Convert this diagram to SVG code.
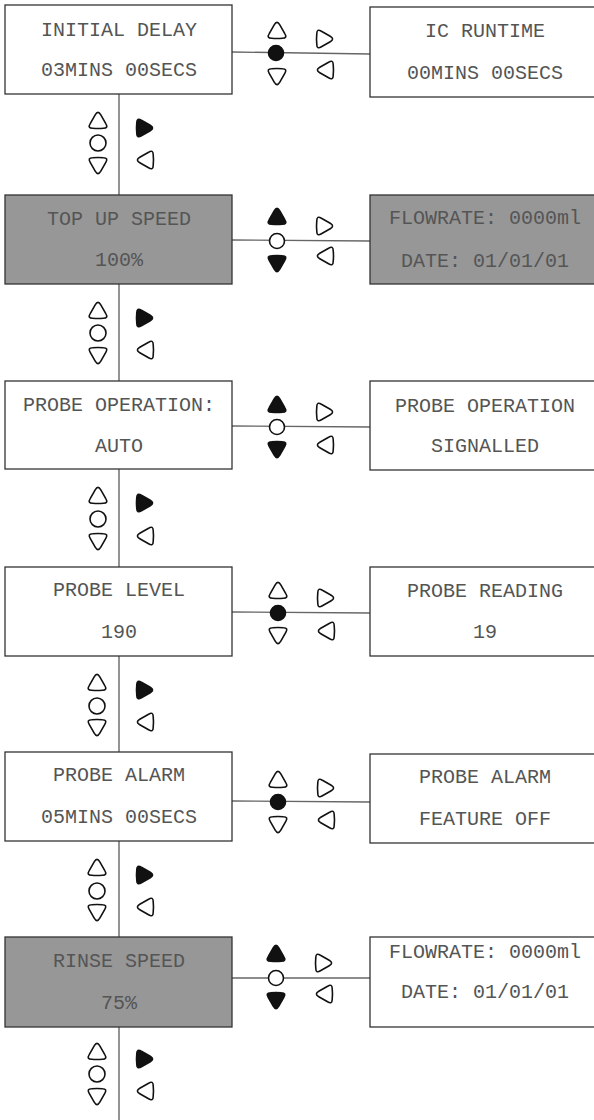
<svg xmlns="http://www.w3.org/2000/svg" xmlns:xlink="http://www.w3.org/1999/xlink" width="594" height="1120" viewBox="0 0 594 1120">
<style>
.box{fill:#fff;stroke:#333;stroke-width:1.3}
.grey{fill:#979797;stroke:#333;stroke-width:1.3}
.t{font-family:"Liberation Mono","DejaVu Sans Mono",monospace;font-size:20px;fill:#555;text-anchor:middle}
.o{fill:#fff;stroke:#111;stroke-width:1.6;stroke-linejoin:round}
.f{fill:#111;stroke:#111;stroke-width:1.6;stroke-linejoin:round}
.ln{stroke:#666;stroke-width:1.4;fill:none}
</style>
<defs>
<path id="up" d="M-2.8,-5.2 Q0,-10 2.8,-5.2 L7.8,3.6 Q10.6,8.2 5.4,8.2 Q0,8.8 -5.4,8.2 Q-10.6,8.2 -7.8,3.6 Z"/>
<path id="dn" d="M-2.8,5.2 Q0,10 2.8,5.2 L7.8,-3.6 Q10.6,-8.2 5.4,-8.2 Q0,-8.8 -5.4,-8.2 Q-10.6,-8.2 -7.8,-3.6 Z"/>
<path id="rt" d="M5.2,-2.8 Q10,0 5.2,2.8 L-3.6,7.8 Q-8.2,10.6 -8.2,5.4 Q-8.8,0 -8.2,-5.4 Q-8.2,-10.6 -3.6,-7.8 Z"/>
<path id="lt" d="M-5.2,-2.8 Q-10,0 -5.2,2.8 L3.6,7.8 Q8.2,10.6 8.2,5.4 Q8.8,0 8.2,-5.4 Q8.2,-10.6 3.6,-7.8 Z"/>
</defs>

<g id="connectors">
<line class="ln" x1="119" y1="94" x2="119" y2="195"/>
<line class="ln" x1="119" y1="284" x2="119" y2="381"/>
<line class="ln" x1="119" y1="469" x2="119" y2="567"/>
<line class="ln" x1="119" y1="656" x2="119" y2="752"/>
<line class="ln" x1="119" y1="841" x2="119" y2="937"/>
<line class="ln" x1="119" y1="1027" x2="119" y2="1120"/>
<line class="ln" x1="232" y1="52" x2="370" y2="54"/>
<line class="ln" x1="232" y1="240" x2="370" y2="241"/>
<line class="ln" x1="232" y1="426" x2="370" y2="427"/>
<line class="ln" x1="232" y1="612" x2="370" y2="613"/>
<line class="ln" x1="232" y1="801" x2="370" y2="802"/>
<line class="ln" x1="232" y1="978" x2="370" y2="978"/>
</g>

<g id="row1-left"><rect class="box" x="5" y="5" width="227" height="89"/><text class="t" x="119" y="36">INITIAL DELAY</text><text class="t" x="119" y="76">03MINS 00SECS</text></g>
<g id="row1-right"><rect class="box" x="370" y="7" width="232" height="90"/><text class="t" x="485" y="37">IC RUNTIME</text><text class="t" x="485" y="79">00MINS 00SECS</text></g>
<g id="row1-icons">
<use href="#up" class="o" x="277" y="30"/><circle class="f" cx="276" cy="53" r="7.5"/><use href="#dn" class="o" x="277" y="77"/>
<use href="#rt" class="o" x="325" y="39"/><use href="#lt" class="o" x="325" y="70"/>
<use href="#up" class="o" x="98" y="120"/><circle class="o" cx="98" cy="143" r="8"/><use href="#dn" class="o" x="98" y="166"/>
<use href="#rt" class="f" x="145" y="128"/><use href="#lt" class="o" x="145" y="160"/>
</g>

<g id="row2-left"><rect class="grey" x="5" y="195" width="227" height="89"/><text class="t" x="119" y="225">TOP UP SPEED</text><text class="t" x="119" y="266">100%</text></g>
<g id="row2-right"><rect class="grey" x="370" y="195" width="232" height="89"/><text class="t" x="485" y="224">FLOWRATE: 0000ml</text><text class="t" x="485" y="267">DATE: 01/01/01</text></g>
<g id="row2-icons">
<use href="#up" class="f" x="277" y="216"/><circle class="o" cx="277" cy="241" r="7.5"/><use href="#dn" class="f" x="277" y="264"/>
<use href="#rt" class="o" x="325" y="226"/><use href="#lt" class="o" x="325" y="256"/>
<use href="#up" class="o" x="98" y="310"/><circle class="o" cx="98" cy="333" r="8"/><use href="#dn" class="o" x="98" y="356"/>
<use href="#rt" class="f" x="145" y="318"/><use href="#lt" class="o" x="145" y="350"/>
</g>

<g id="row3-left"><rect class="box" x="5" y="381" width="227" height="88"/><text class="t" x="119" y="411">PROBE OPERATION:</text><text class="t" x="119" y="452">AUTO</text></g>
<g id="row3-right"><rect class="box" x="370" y="381" width="232" height="89"/><text class="t" x="485" y="412">PROBE OPERATION</text><text class="t" x="485" y="452">SIGNALLED</text></g>
<g id="row3-icons">
<use href="#up" class="f" x="277" y="404"/><circle class="o" cx="277" cy="427" r="7.5"/><use href="#dn" class="f" x="277" y="450"/>
<use href="#rt" class="o" x="325" y="412"/><use href="#lt" class="o" x="325" y="445"/>
<use href="#up" class="o" x="98" y="495"/><circle class="o" cx="98" cy="519" r="8"/><use href="#dn" class="o" x="98" y="542"/>
<use href="#rt" class="f" x="145" y="503"/><use href="#lt" class="o" x="145" y="536"/>
</g>

<g id="row4-left"><rect class="box" x="5" y="567" width="227" height="89"/><text class="t" x="119" y="596">PROBE LEVEL</text><text class="t" x="119" y="638">190</text></g>
<g id="row4-right"><rect class="box" x="370" y="567" width="232" height="89"/><text class="t" x="485" y="597">PROBE READING</text><text class="t" x="485" y="638">19</text></g>
<g id="row4-icons">
<use href="#up" class="o" x="278" y="590"/><circle class="f" cx="278" cy="613" r="7.5"/><use href="#dn" class="o" x="278" y="636"/>
<use href="#rt" class="o" x="326" y="598"/><use href="#lt" class="o" x="326" y="631"/>
<use href="#up" class="o" x="97" y="682"/><circle class="o" cx="97" cy="706" r="8"/><use href="#dn" class="o" x="97" y="728"/>
<use href="#rt" class="f" x="145" y="690"/><use href="#lt" class="o" x="145" y="722"/>
</g>

<g id="row5-left"><rect class="box" x="5" y="752" width="227" height="89"/><text class="t" x="119" y="781">PROBE ALARM</text><text class="t" x="119" y="823">05MINS 00SECS</text></g>
<g id="row5-right"><rect class="box" x="370" y="754" width="232" height="89"/><text class="t" x="485" y="783">PROBE ALARM</text><text class="t" x="485" y="825">FEATURE OFF</text></g>
<g id="row5-icons">
<use href="#up" class="o" x="278" y="779"/><circle class="f" cx="278" cy="802" r="7.5"/><use href="#dn" class="o" x="278" y="825"/>
<use href="#rt" class="o" x="326" y="788"/><use href="#lt" class="o" x="326" y="820"/>
<use href="#up" class="o" x="97" y="867"/><circle class="o" cx="97" cy="891" r="8"/><use href="#dn" class="o" x="97" y="913"/>
<use href="#rt" class="f" x="145" y="875"/><use href="#lt" class="o" x="145" y="907"/>
</g>

<g id="row6-left"><rect class="grey" x="5" y="937" width="227" height="90"/><text class="t" x="119" y="967">RINSE SPEED</text><text class="t" x="119" y="1009">75%</text></g>
<g id="row6-right"><rect class="box" x="370" y="937" width="232" height="90"/><text class="t" x="485" y="958">FLOWRATE: 0000ml</text><text class="t" x="485" y="998">DATE: 01/01/01</text></g>
<g id="row6-icons">
<use href="#up" class="f" x="276" y="953"/><circle class="o" cx="276" cy="978" r="7.5"/><use href="#dn" class="f" x="276" y="1001"/>
<use href="#rt" class="o" x="324" y="963"/><use href="#lt" class="o" x="324" y="994"/>
<use href="#up" class="o" x="97" y="1051"/><circle class="o" cx="97" cy="1074" r="8"/><use href="#dn" class="o" x="97" y="1097"/>
<use href="#rt" class="f" x="145" y="1059"/><use href="#lt" class="o" x="145" y="1091"/>
</g>
</svg>
